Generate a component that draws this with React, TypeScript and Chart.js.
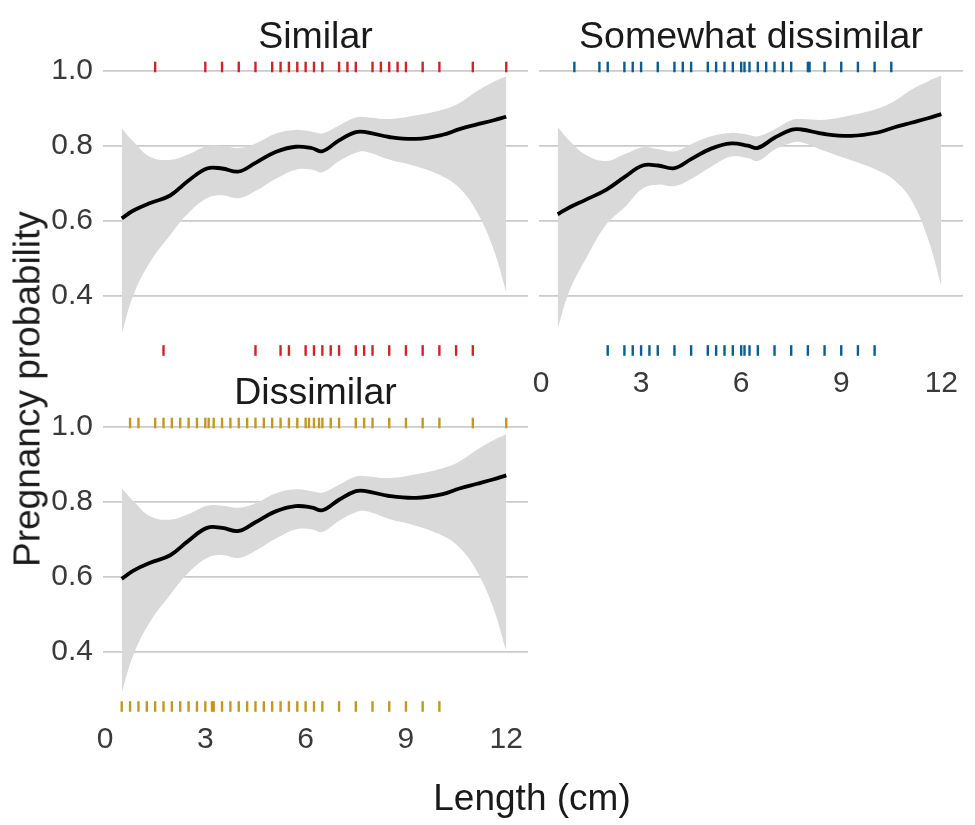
import React, { useEffect, useRef } from 'react';
import { Chart, registerables } from 'chart.js';

Chart.register(...registerables);

// ---------- data ----------
const X_TICKS = [0, 3, 6, 9, 12];
const Y_TICKS = [0.4, 0.6, 0.8, 1.0];

const FIT_X = [0.5, 0.85, 1.35, 1.95, 2.5, 3.05, 3.5, 4.0, 4.5, 5.1, 5.7, 6.2, 6.5, 7.0, 7.5, 7.8, 8.5, 9.3, 10.1, 10.6, 11.1, 11.6, 12.0];

const SIM_FIT = [0.607, 0.628, 0.648, 0.668, 0.708, 0.740, 0.740, 0.732, 0.755, 0.784, 0.798, 0.794, 0.786, 0.815, 0.837, 0.837, 0.824, 0.819, 0.830, 0.845, 0.857, 0.868, 0.878];
const SIM_LO = [0.300, 0.403, 0.491, 0.563, 0.622, 0.661, 0.669, 0.661, 0.680, 0.712, 0.737, 0.737, 0.730, 0.760, 0.782, 0.785, 0.764, 0.746, 0.719, 0.688, 0.628, 0.530, 0.410];
const SIM_HI = [0.847, 0.812, 0.771, 0.763, 0.778, 0.800, 0.800, 0.795, 0.807, 0.833, 0.843, 0.838, 0.834, 0.855, 0.876, 0.877, 0.872, 0.882, 0.897, 0.915, 0.945, 0.970, 0.987];

const SOM_FIT = [0.618, 0.636, 0.657, 0.683, 0.717, 0.748, 0.748, 0.741, 0.765, 0.793, 0.807, 0.801, 0.795, 0.822, 0.843, 0.844, 0.832, 0.827, 0.836, 0.850, 0.862, 0.874, 0.885];
const SOM_LO = [0.314, 0.413, 0.500, 0.590, 0.636, 0.687, 0.697, 0.693, 0.712, 0.745, 0.772, 0.768, 0.760, 0.790, 0.808, 0.810, 0.787, 0.762, 0.735, 0.708, 0.656, 0.553, 0.427];
const SOM_HI = [0.851, 0.815, 0.776, 0.760, 0.778, 0.797, 0.792, 0.786, 0.805, 0.826, 0.835, 0.830, 0.826, 0.845, 0.869, 0.872, 0.870, 0.882, 0.900, 0.920, 0.950, 0.973, 0.988];

const DIS_FIT = [0.595, 0.617, 0.638, 0.658, 0.697, 0.731, 0.731, 0.723, 0.746, 0.775, 0.789, 0.785, 0.778, 0.806, 0.829, 0.829, 0.816, 0.811, 0.821, 0.836, 0.848, 0.860, 0.871];
const DIS_LO = [0.292, 0.393, 0.481, 0.553, 0.612, 0.651, 0.659, 0.651, 0.670, 0.702, 0.727, 0.727, 0.720, 0.750, 0.773, 0.776, 0.755, 0.737, 0.710, 0.679, 0.619, 0.521, 0.402];
const DIS_HI = [0.837, 0.803, 0.762, 0.753, 0.768, 0.790, 0.790, 0.785, 0.797, 0.823, 0.834, 0.829, 0.825, 0.846, 0.868, 0.869, 0.864, 0.874, 0.890, 0.908, 0.938, 0.964, 0.981];

// rug: lengths of pregnant (top) and non-pregnant (bottom) observations
const SIM_RUG_TOP = [1.5, 3, 3.5, 4, 4.5, 5, 5.25, 5.5, 5.75, 6, 6.25, 6.5, 7, 7.25, 7.5, 8, 8.25, 8.5, 8.75, 9, 9.5, 10, 11, 12];
const SIM_RUG_BOTTOM = [1.75, 4.5, 5.25, 5.5, 6, 6.25, 6.5, 6.75, 7, 7.5, 7.75, 8, 8.5, 9, 9.5, 10, 10.5, 11];
const SOM_RUG_TOP = [1, 1.75, 2, 2.5, 2.75, 3, 3.5, 4, 4.25, 4.5, 5, 5.25, 5.5, 5.75, 6, 6.1, 6.25, 6.5, 6.75, 7, 7.25, 7.5, 8, 8.05, 8.5, 9, 9.5, 10, 10.5];
const SOM_RUG_BOTTOM = [2, 2.5, 2.75, 3, 3.25, 3.5, 4, 4.5, 5, 5.25, 5.5, 5.75, 6, 6.1, 6.25, 6.5, 7, 7.5, 8, 8.5, 9, 9.5, 10];
const DIS_RUG_TOP = [0.75, 1, 1.5, 1.75, 2, 2.25, 2.5, 2.75, 3, 3.1, 3.25, 3.5, 3.75, 4, 4.25, 4.5, 4.75, 5, 5.25, 5.5, 5.75, 6, 6.1, 6.25, 6.4, 6.5, 6.75, 7, 7.5, 7.75, 8, 8.5, 9, 9.5, 10, 11, 12];
const DIS_RUG_BOTTOM = [0.5, 0.75, 1, 1.25, 1.5, 1.75, 2, 2.25, 2.5, 2.75, 3, 3.2, 3.25, 3.5, 3.75, 4, 4.25, 4.5, 4.75, 5, 5.25, 5.5, 5.75, 6, 6.25, 6.5, 7, 7.5, 8, 8.5, 9, 9.5, 10];

const X_MIN = -0.06;
const X_MAX = 12.65;
const Y_MIN = 0.24;
const Y_MAX = 1.024;
const RUG_TOP_Y = 1.0107;
const RUG_BOTTOM_Y = 0.2547;

const FONT = "'Liberation Sans', Arial, Helvetica, sans-serif";

type Panel = {
  title: string;
  color: string;
  fit: number[];
  lo: number[];
  hi: number[];
  rugTop: number[];
  rugBottom: number[];
  area: { left: number; top: number; right: number; bottom: number };
  showY: boolean;
  showX: boolean;
};

const PANELS: Panel[] = [
  { title: 'Similar', color: '#cf2327', fit: SIM_FIT, lo: SIM_LO, hi: SIM_HI, rugTop: SIM_RUG_TOP, rugBottom: SIM_RUG_BOTTOM,
    area: { left: 103, top: 62, right: 528, bottom: 356 }, showY: true, showX: false },
  { title: 'Somewhat dissimilar', color: '#065f90', fit: SOM_FIT, lo: SOM_LO, hi: SOM_HI, rugTop: SOM_RUG_TOP, rugBottom: SOM_RUG_BOTTOM,
    area: { left: 539, top: 62, right: 963, bottom: 356 }, showY: false, showX: true },
  { title: 'Dissimilar', color: '#c3981f', fit: DIS_FIT, lo: DIS_LO, hi: DIS_HI, rugTop: DIS_RUG_TOP, rugBottom: DIS_RUG_BOTTOM,
    area: { left: 103, top: 418, right: 528, bottom: 712 }, showY: true, showX: true },
];

const W = 975;
const H = 825;
const TITLE_BLOCK = 62;
const TITLE_SIZE = 37.5;
const Y_AXIS_W = 103;
const X_AXIS_H = 48;

function PanelChart({ panel }: { panel: Panel }) {
  const ref = useRef<HTMLCanvasElement | null>(null);
  useEffect(() => {
    if (!ref.current) return;
    const yW = panel.showY ? Y_AXIS_W : 0;
    const xH = panel.showX ? X_AXIS_H : 0;
    const pts = (ys: number[]) => FIT_X.map((x, i) => ({ x, y: ys[i] }));
    const rug = (xs: number[], y: number) => xs.map((x) => ({ x, y }));
    const rugStyle = {
      type: 'line' as const,
      showLine: false,
      pointStyle: 'line' as const,
      rotation: 90,
      pointRadius: 5.3,
      pointHoverRadius: 5.3,
      pointBorderWidth: 2.4,
      pointBorderColor: panel.color,
      borderColor: panel.color,
      backgroundColor: panel.color,
      clip: false as const,
      order: 0,
    };
    const titleLine = TITLE_SIZE * 1.2;
    const titleTop = 37.5 - titleLine / 2;
    const titleBottom = TITLE_BLOCK - titleTop - titleLine;
    const chart = new Chart(ref.current, {
      type: 'line',
      data: {
        datasets: [
          { label: 'lower', data: pts(panel.lo), borderWidth: 0, borderColor: 'rgba(0,0,0,0)', pointRadius: 0, fill: false,
            tension: 0.4, order: 3 },
          { label: 'upper', data: pts(panel.hi), borderWidth: 0, borderColor: 'rgba(0,0,0,0)', pointRadius: 0, fill: '-1',
            backgroundColor: '#d9d9d9', tension: 0.4, order: 2 },
          { label: 'fit', data: pts(panel.fit), borderWidth: 3.8, borderColor: '#000000', pointRadius: 0, fill: false,
            tension: 0.4, borderCapStyle: 'butt', order: 1 },
          { label: 'rugTop', data: rug(panel.rugTop, RUG_TOP_Y), ...rugStyle },
          { label: 'rugBottom', data: rug(panel.rugBottom, RUG_BOTTOM_Y), ...rugStyle },
        ],
      },
      options: {
        responsive: false,
        animation: false,
        events: [],
        layout: {
          padding: {
            left: panel.area.left - yW,
            top: panel.area.top - TITLE_BLOCK,
            right: W - panel.area.right,
            bottom: H - panel.area.bottom - xH,
          },
        },
        plugins: {
          legend: { display: false },
          tooltip: { enabled: false },
          title: {
            display: true,
            text: panel.title,
            fullSize: false,
            color: '#1a1a1a',
            font: { family: FONT, size: TITLE_SIZE, weight: 'normal', lineHeight: 1.2 },
            padding: { top: titleTop, bottom: titleBottom },
          },
        },
        scales: {
          x: {
            type: 'linear',
            min: X_MIN,
            max: X_MAX,
            display: panel.showX,
            afterBuildTicks: (s: any) => { s.ticks = X_TICKS.map((v) => ({ value: v })); },
            afterFit: (s: any) => { s.height = xH; },
            grid: { display: false, drawTicks: false },
            border: { display: false },
            ticks: {
              padding: 9.5,
              color: '#3a3a3a',
              font: { family: FONT, size: 30 },
              maxRotation: 0,
              autoSkip: false,
              callback: (v: any) => String(v),
            },
          },
          y: {
            type: 'linear',
            min: Y_MIN,
            max: Y_MAX,
            afterBuildTicks: (s: any) => { s.ticks = Y_TICKS.map((v) => ({ value: v })); },
            afterFit: (s: any) => { s.width = yW; },
            grid: { display: true, drawTicks: false, color: '#cbcbcb', lineWidth: 1.7 },
            border: { display: false },
            ticks: {
              display: panel.showY,
              padding: 10,
              color: '#3a3a3a',
              font: { family: FONT, size: 30 },
              autoSkip: false,
              callback: (v: any) => Number(v).toFixed(1),
            },
          },
        },
      } as any,
    });
    return () => chart.destroy();
  }, [panel]);
  return (
    <canvas
      ref={ref}
      width={W}
      height={H}
      style={{ position: 'absolute', left: 0, top: 0, width: W, height: H }}
    />
  );
}

export default function App() {
  return (
    <div style={{ position: 'absolute', left: 0, top: 0, width: W, height: H, background: '#ffffff', overflow: 'hidden', fontFamily: FONT }}>
      {PANELS.map((p) => (
        <PanelChart key={p.title} panel={p} />
      ))}
      <div
        style={{
          position: 'absolute', left: 27, top: 389, transform: 'translate(-50%, -50%) rotate(-90deg)',
          whiteSpace: 'nowrap', fontSize: 37, lineHeight: '37px', color: '#1a1a1a',
        }}
      >
        Pregnancy probability
      </div>
      <div
        style={{
          position: 'absolute', left: 532, top: 797, transform: 'translate(-50%, -50%)',
          whiteSpace: 'nowrap', fontSize: 37, lineHeight: '37px', color: '#1a1a1a',
        }}
      >
        Length (cm)
      </div>
    </div>
  );
}
